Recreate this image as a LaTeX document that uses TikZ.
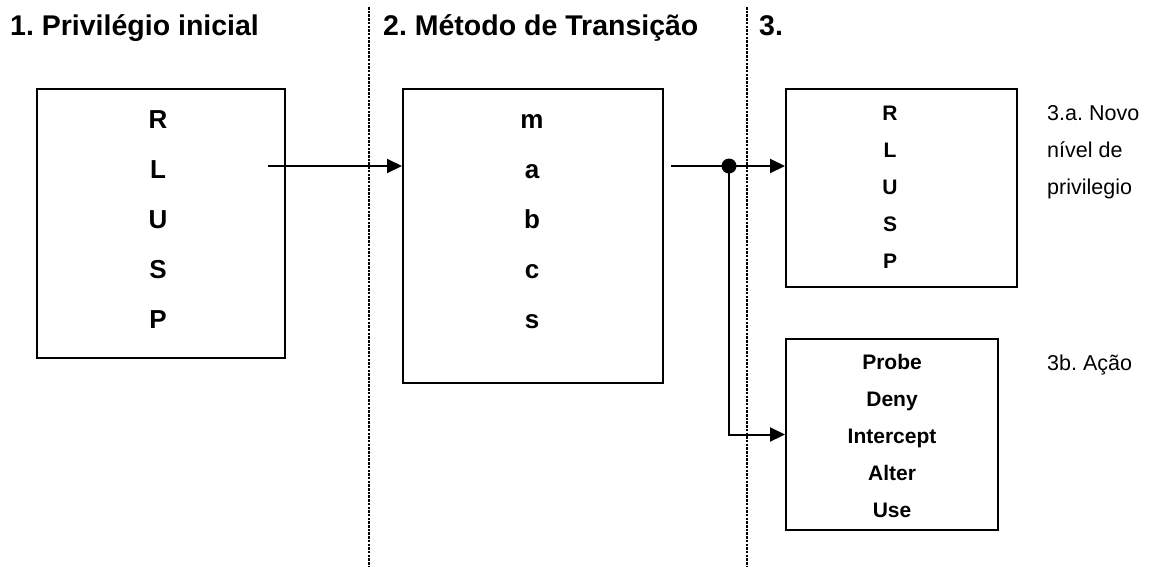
\documentclass[tikz,border=0pt]{standalone}
\usepackage{fontspec}
\setmainfont{Liberation Sans}
\usetikzlibrary{arrows.meta}
\frenchspacing
\begin{document}
\begin{tikzpicture}[x=1pt,y=-1pt,
  box/.style={draw,line width=2pt,inner sep=0pt},
  title/.style={font=\fontsize{28.5}{34}\selectfont\bfseries,anchor=base west,inner sep=0pt},
  bigtxt/.style={font=\fontsize{26}{50}\selectfont\bfseries,align=center,anchor=base,inner sep=0pt},
  smalltxt/.style={font=\fontsize{21}{37}\selectfont\bfseries,align=center,anchor=base,inner sep=0pt},
  note/.style={font=\fontsize{21.5}{37}\selectfont,align=left,anchor=base west,inner sep=0pt},
  flow/.style={line width=2pt,-{Triangle[length=15pt,width=14pt]}},
  divider/.style={line width=2.2pt,dash pattern=on 2.5pt off 1.2pt}]
\useasboundingbox (0,0) rectangle (1155,566);

% dividers
\coordinate (d1t) at (369,7);
\coordinate (d1b) at (369,566);
\coordinate (d2t) at (747,7);
\coordinate (d2b) at (747,566);
\draw[divider] (d1t) -- (d1b);
\draw[divider] (d2t) -- (d2b);

% titles
\node[title] (t1) at (10,35) {1. Privilégio inicial};
\node[title] (t2) at (383,35) {2. Método de Transição};
\node[title] (t3) at (759,35) {3.};

% boxes
\node[box,minimum width=248pt,minimum height=269pt] (box1) at (161,223.5) {};
\node[box,minimum width=260pt,minimum height=294pt] (box2) at (533,236) {};
\node[box,minimum width=231pt,minimum height=198pt] (box3a) at (901.5,188) {};
\node[box,minimum width=212pt,minimum height=191pt] (box3b) at (892,434.5) {};

% box contents (anchor base = baseline of last line)
\node[bigtxt] (c1) at (158,328) {R\\L\\U\\S\\P};
\node[bigtxt] (c2) at (532,328) {m\\a\\b\\c\\s};
\node[smalltxt] (c3a) at (890,268) {R\\L\\U\\S\\P};
\node[smalltxt] (c3b) at (892,517.5) {Probe\\Deny\\Intercept\\Alter\\Use};

% side notes
\node[note] (n3a) at (1047,194) {3.a. Novo\\nível de\\privilegio};
\node[note] (n3b) at (1047,370) {3b. Ação};

% connectors
\coordinate (s1) at (268,166);
\coordinate (s2) at (671,166);
\coordinate (j) at (729,166);
\draw[flow] (s1) -- (s1 -| box2.west);
\draw[line width=2pt] (s2) -- (j);
\draw[flow] (j) -- (j -| box3a.west);
\draw[flow] (j) |- (box3b.west);
\fill (j) circle (7.5pt);
\end{tikzpicture}
\end{document}
